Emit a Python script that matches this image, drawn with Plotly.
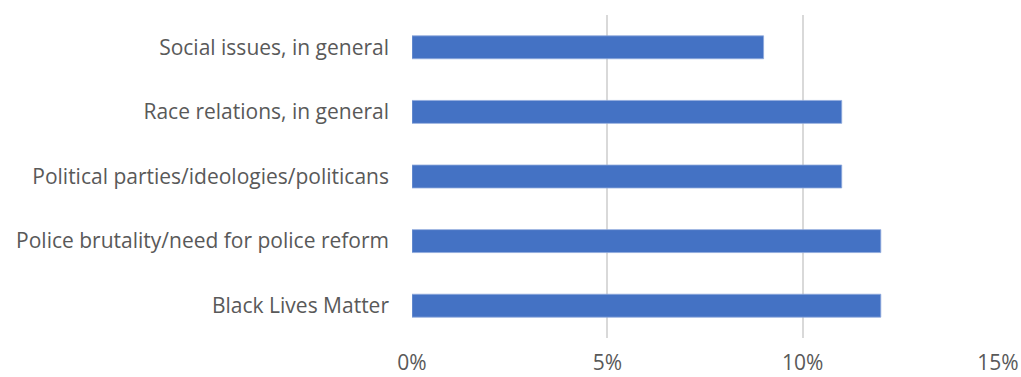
import plotly.graph_objects as go

# Share of responses by topic (percent), listed top to bottom
categories = [
    "Social issues, in general",
    "Race relations, in general",
    "Political parties/ideologies/politicans",
    "Police brutality/need for police reform",
    "Black Lives Matter",
]
values = [9, 11, 11, 12, 12]
tick_vals = [0, 5, 10, 15]
tick_text = ["0%", "5%", "10%", "15%"]

fig = go.Figure(
    go.Bar(
        x=values,
        y=categories,
        orientation="h",
        marker=dict(color="#4472C4", line=dict(color="#8fa9dc", width=0.8)),
        hoverinfo="x+y",
    )
)

font_family = "'Open Sans', Lato, sans-serif"
label_size = 21

fig.update_layout(
    width=1021,
    height=377,
    margin=dict(l=412, r=23, t=15, b=39, pad=0),
    paper_bgcolor="white",
    plot_bgcolor="white",
    bargap=0.645,
    showlegend=False,
    font=dict(family=font_family, size=label_size, color="#595959"),
)

fig.update_xaxes(
    range=[0, 15],
    tickvals=tick_vals,
    ticktext=tick_text,
    showgrid=True,
    gridcolor="#d9d9d9",
    gridwidth=1.5,
    zeroline=False,
    showline=False,
    ticks="",
    automargin=False,
    ticklabelstandoff=10,
    tickfont=dict(size=label_size, color="#595959"),
)

fig.update_yaxes(
    categoryorder="array",
    categoryarray=categories[::-1],
    showgrid=False,
    zeroline=False,
    showline=False,
    ticks="",
    automargin=False,
    ticklabelstandoff=22,
    tickfont=dict(size=label_size, color="#595959"),
)

fig.write_html("out.html")
